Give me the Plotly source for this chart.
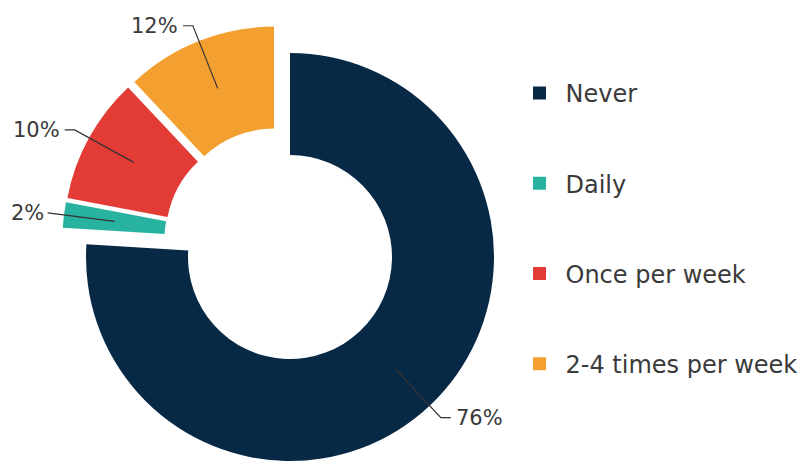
import math
import plotly.graph_objects as go

# ---- data ----
categories = ["Never", "Daily", "Once per week", "2-4 times per week"]
values = [76, 2, 10, 12]
colors = ["#082946", "#27b3a0", "#e33b36", "#f3a030"]

# ---- geometry / style ----
W, H = 806, 461
OFF = 8                  # page body margin: figure is drawn 8px in from the corner
R = 204                  # outer radius in px
HOLE = 0.5
PULL = 0.06              # individual pull of the small slices
C_MAIN = (290, 257)      # screen centre of the "Never" ring
C_SHIFT = (278.5, 242)   # screen centre of the offset group of small slices
FONT = "DejaVu Sans"
LABEL_SIZE = 21
TXT = "#3a3a3a"
CLEAR = "rgba(0,0,0,0)"


def dom(c, half):
    cx, cy = c[0] - OFF, c[1] - OFF
    return dict(x=[(cx - half) / W, (cx + half) / W],
                y=[1 - (cy + half) / H, 1 - (cy - half) / H])


def px(x, y):
    return (x - OFF) / W, 1 - (y - OFF) / H


fig = go.Figure()

main_colors = [colors[0]] + [CLEAR] * (len(values) - 1)
shift_colors = [CLEAR] + colors[1:]

fig.add_trace(go.Pie(
    labels=categories, values=values, hole=HOLE, sort=False,
    direction="clockwise", rotation=0, domain=dom(C_MAIN, R),
    marker=dict(colors=main_colors, line=dict(width=0)),
    textinfo="none", hoverinfo="label+percent", showlegend=False))

fig.add_trace(go.Pie(
    labels=categories, values=values, hole=HOLE, sort=False,
    direction="clockwise", rotation=0, domain=dom(C_SHIFT, R * (1 + PULL)),
    pull=[0] + [PULL] * (len(values) - 1),
    marker=dict(colors=shift_colors, line=dict(width=0)),
    textinfo="none", hoverinfo="label+percent", showlegend=False))

# legend entries
for cat, col in zip(categories, colors):
    fig.add_trace(go.Scatter(
        x=[None], y=[None], mode="markers", name=cat, legendgroup=cat,
        marker=dict(symbol="square", size=13, color=col), hoverinfo="skip"))

# percentage labels with leader lines (positions derived from the values)
total = sum(values)
cum = 0
shapes, annos = [], []
for i, v in enumerate(values):
    mid = (cum + v / 2) / total
    cum += v
    th = 2 * math.pi * mid
    dx, dy = math.sin(th), -math.cos(th)
    c = C_MAIN if i == 0 else C_SHIFT
    extra = 0 if i == 0 else PULL * R
    r_mid = R * (1 + HOLE) / 2 + extra
    r_elb = R * 1.08 + extra
    tip = (c[0] + dx * r_mid, c[1] + dy * r_mid)
    elb = (c[0] + dx * r_elb, c[1] + dy * r_elb)
    s = 1 if dx >= 0 else -1
    text = f"{round(100 * v / total)}%"
    est_w = LABEL_SIZE * 0.8 * len(text)
    hook_x = elb[0] + s * 10
    lab_x = hook_x + s * 3
    if s < 0 and lab_x - est_w < OFF + 4:       # keep text inside the page
        lab_x = OFF + 4 + est_w
        hook_x = max(min(hook_x, elb[0]), lab_x + 2)
    hook = (hook_x, elb[1])
    p0, p1, p2 = px(*tip), px(*elb), px(*hook)
    shapes.append(dict(
        type="path", xref="paper", yref="paper",
        path=f"M {p0[0]},{p0[1]} L {p1[0]},{p1[1]} L {p2[0]},{p2[1]}",
        line=dict(color="#333333", width=1.2)))
    lx, ly = px(lab_x, elb[1])
    annos.append(dict(
        xref="paper", yref="paper", x=lx, y=ly,
        xanchor="left" if s > 0 else "right", yanchor="middle",
        text=text, showarrow=False,
        font=dict(family=FONT, size=LABEL_SIZE, color=TXT)))

lx0, ly0 = px(513.5, 71)
fig.update_layout(
    width=W, height=H,
    margin=dict(l=0, r=0, t=0, b=0),
    paper_bgcolor="white", plot_bgcolor="white",
    xaxis=dict(visible=False), yaxis=dict(visible=False),
    shapes=shapes, annotations=annos,
    showlegend=True,
    legend=dict(x=lx0, y=ly0, xanchor="left", yanchor="top",
                font=dict(family=FONT, size=24, color=TXT),
                tracegroupgap=56, itemwidth=42, bgcolor=CLEAR),
    font=dict(family=FONT),
)

fig.write_html("out.html")
